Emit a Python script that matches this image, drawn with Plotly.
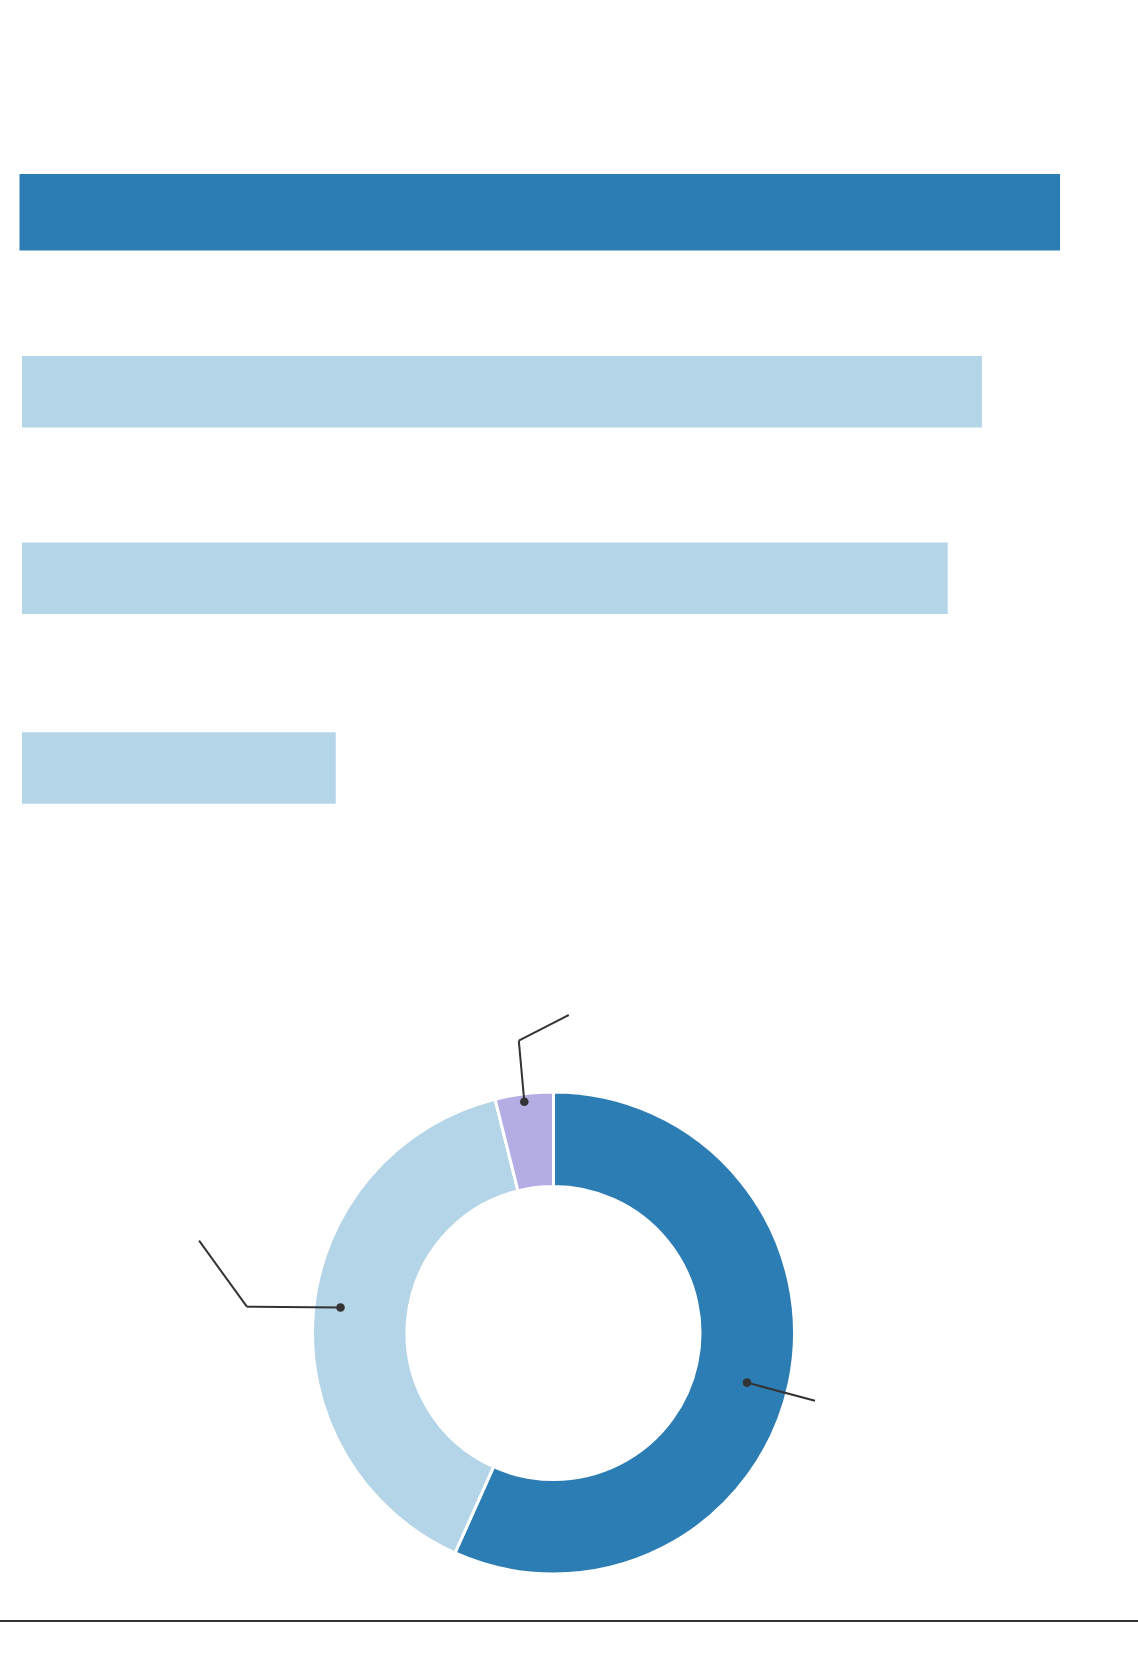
import plotly.graph_objects as go

W, H = 1138, 1672

# ---- data ----
bar_categories = ["A", "B", "C", "D"]
bar_values = [100.0, 92.7, 89.4, 30.3]
bar_colors = ["#2c7db3", "#b4d4e8", "#b4d4e8", "#b4d4e8"]

donut_labels = ["Segment 1", "Segment 2", "Segment 3"]
donut_values = [56.7, 39.4, 3.9]
donut_colors = ["#2c7db3", "#b4d4e8", "#b4ade3"]


def px_x(x):
    return x / W


def px_y(y):
    return 1 - y / H


# horizontal scale: value 0 at x=22px, value 100 at x=1057.5px
X0_PX, X100_PX = 22.0, 1057.5
unit = (X100_PX - X0_PX) / 100.0
x_range = [(0 - X0_PX) / unit, (W - X0_PX) / unit]

# row layout (pixel centres of each bar row)
row_centres = [212.3, 391.8, 578.2, 768.0]
row_slot = 80.0
bar_thick = 71.5
line_widths = [5, 0, 0, 0]

fig = go.Figure()

layout_axes = {}
for i, (cat, val, col, lw, cy) in enumerate(
        zip(bar_categories, bar_values, bar_colors, line_widths, row_centres)):
    yname = "y" if i == 0 else f"y{i + 1}"
    ykey = "yaxis" if i == 0 else f"yaxis{i + 1}"
    fig.add_trace(go.Bar(
        x=[val], y=[cat], orientation="h",
        marker=dict(color=col, line=dict(color=col, width=lw)),
        hoverinfo="skip", showlegend=False,
        xaxis="x", yaxis=yname,
    ))
    layout_axes[ykey] = dict(
        domain=[px_y(cy + row_slot / 2), px_y(cy - row_slot / 2)],
        visible=False, fixedrange=True, anchor="x",
    )

fig.add_trace(go.Pie(
    labels=donut_labels,
    values=donut_values,
    hole=0.608,
    sort=False,
    direction="clockwise",
    rotation=0,
    marker=dict(colors=donut_colors, line=dict(color="white", width=3)),
    textinfo="none",
    hoverinfo="skip",
    showlegend=False,
    domain=dict(x=[px_x(553.5 - 241), px_x(553.5 + 241)],
                y=[px_y(1333 + 241), px_y(1333 - 241)]),
))

line_style = dict(color="#333333", width=2)
shapes = []
# leader lines (pixel positions converted to paper)
leaders = [
    [(524.3, 1101.7), (518.8, 1040.7), (568.8, 1015.0)],
    [(340.5, 1307.5), (246.9, 1306.7), (199.1, 1240.7)],
    [(747.0, 1382.6), (815.0, 1400.7)],
]
for pts in leaders:
    for (x0, y0), (x1, y1) in zip(pts[:-1], pts[1:]):
        shapes.append(dict(type="line", xref="paper", yref="paper",
                           x0=px_x(x0), y0=px_y(y0), x1=px_x(x1), y1=px_y(y1),
                           line=line_style))
    cx, cy = pts[0]
    r = 4.3
    shapes.append(dict(type="circle", xref="paper", yref="paper",
                       x0=px_x(cx - r), x1=px_x(cx + r),
                       y0=px_y(cy + r), y1=px_y(cy - r),
                       fillcolor="#333333", line=dict(width=0)))
# bottom rule
shapes.append(dict(type="line", xref="paper", yref="paper",
                   x0=0, x1=1, y0=px_y(1621), y1=px_y(1621),
                   line=dict(color="#333333", width=2)))

fig.update_layout(
    width=W, height=H,
    margin=dict(l=0, r=0, t=0, b=0),
    paper_bgcolor="white",
    plot_bgcolor="white",
    bargap=1 - bar_thick / row_slot,
    xaxis=dict(domain=[0, 1], range=x_range,
               visible=False, fixedrange=True),
    shapes=shapes,
    hovermode=False,
    showlegend=False,
    **layout_axes,
)

fig.write_html(
    "out.html",
    config={"displayModeBar": False},
    post_script="document.body.style.margin='0';document.body.style.overflow='hidden';",
)
